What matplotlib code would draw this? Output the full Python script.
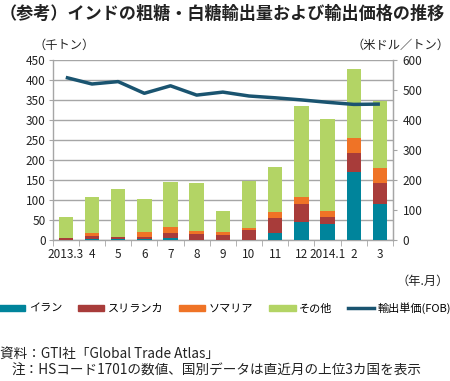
import matplotlib
matplotlib.use("Agg")
import matplotlib.pyplot as plt
import numpy as np
from matplotlib.patches import Rectangle
from matplotlib.lines import Line2D

plt.rcParams['font.family'] = ['Noto Sans CJK JP', 'DejaVu Sans']

months = ["2013.3", "4", "5", "6", "7", "8", "9", "10", "11", "12", "2014.1", "2", "3"]
iran = [0, 1.5, 3, 2.5, 6, 0, 0, 0, 17, 46, 40, 171, 90]
srilanka = [4, 8, 5, 6, 12.5, 15, 12, 25, 37.5, 44, 17.5, 47.5, 52]
somalia = [1, 8, 0, 12.5, 15, 8, 8, 6, 15, 18, 16, 37.5, 37]
totals = [58, 108, 127.5, 103, 145, 142, 73, 147, 183, 336, 302, 427, 348]
others = [t - a - b - c for t, a, b, c in zip(totals, iran, srilanka, somalia)]
price = [542, 520, 528, 489, 514, 483, 493, 480, 474, 467, 459, 452, 453]

c_iran = "#00849b"
c_sri = "#a83c3a"
c_som = "#ef7326"
c_oth = "#b3d465"
c_line = "#1a5470"
grid_c = "#a6a6a6"

fig = plt.figure(figsize=(4.5, 3.81), dpi=100)
ax = fig.add_axes([52.7/450, 141/381, 340.3/450, 180/381])
x = np.arange(len(months))
w = 0.55
b = np.zeros(len(months))
for vals, col in [(iran, c_iran), (srilanka, c_sri), (somalia, c_som), (others, c_oth)]:
    ax.bar(x, vals, w, bottom=b, color=col, edgecolor='none', zorder=3)
    b += np.array(vals)

ax.set_xlim(-0.5, len(months) - 0.5)
ax.set_ylim(0, 450)
ax.set_yticks(np.arange(0, 451, 50))
ax.yaxis.grid(True, color=grid_c, linewidth=1.0, zorder=0)
ax.set_axisbelow(True)
ax.spines['top'].set_visible(False)
for s in ['left', 'right', 'bottom']:
    ax.spines[s].set_color(grid_c)
    ax.spines[s].set_linewidth(1.0)
ax.set_xticks(x)
ax.set_xticklabels(months, fontsize=8.5, color='#222222')
ax.tick_params(axis='x', which='major', length=0, pad=6)
ax.set_xticks(np.arange(-0.5, len(months), 1), minor=True)
ax.tick_params(axis='x', which='minor', length=4, color=grid_c)
ax.tick_params(axis='y', length=3, color=grid_c, labelsize=8.5, labelcolor='#222222', pad=2)

ax2 = ax.twinx()
ax2.plot(x, price, color=c_line, linewidth=2.5, zorder=5, solid_capstyle='butt')
ax2.set_ylim(0, 600)
ax2.set_yticks(np.arange(0, 601, 100))
ax2.tick_params(axis='y', length=3, color=grid_c, labelsize=8.5, labelcolor='#222222', pad=4)
for s in ['top', 'left', 'bottom']:
    ax2.spines[s].set_visible(False)
ax2.spines['right'].set_color(grid_c)

fig.text(0/450, 1 - 14/381, "（参考）インドの粗糖・白糖輸出量および輸出価格の推移",
         fontsize=12.3, fontweight='bold', va='center', ha='left', color='#222222')
fig.text(33/450, 1 - 45/381, "（千トン）", fontsize=8.8, va='center', ha='left', color='#222222')
fig.text(449/450, 1 - 45/381, "（米ドル／トン）", fontsize=8.8, va='center', ha='right', color='#222222')
fig.text(449/450, 1 - 281/381, "（年.月）", fontsize=8.8, va='center', ha='right', color='#222222')

handles = [Rectangle((0, 0), 1, 1, color=c_iran), Rectangle((0, 0), 1, 1, color=c_sri),
           Rectangle((0, 0), 1, 1, color=c_som), Rectangle((0, 0), 1, 1, color=c_oth),
           Line2D([0], [0], color=c_line, linewidth=2.5)]
labels = ["イラン", "スリランカ", "ソマリア", "その他", "輸出単価(FOB)"]
leg = fig.legend(handles, labels, loc='center', bbox_to_anchor=(0.5, 1 - 308/381), ncol=5,
                 frameon=False, fontsize=8, handlelength=2.4, handleheight=0.5,
                 columnspacing=1.4, handletextpad=0.3)

fig.text(0/450, 1 - 354/381, "資料：GTI社「Global Trade Atlas」", fontsize=9.8, va='center', ha='left', color='#222222')
fig.text(12/450, 1 - 371/381, "注：HSコード1701の数値、国別データは直近月の上位3カ国を表示", fontsize=9.8, va='center', ha='left', color='#222222')

fig.savefig("out.png", dpi=100)
